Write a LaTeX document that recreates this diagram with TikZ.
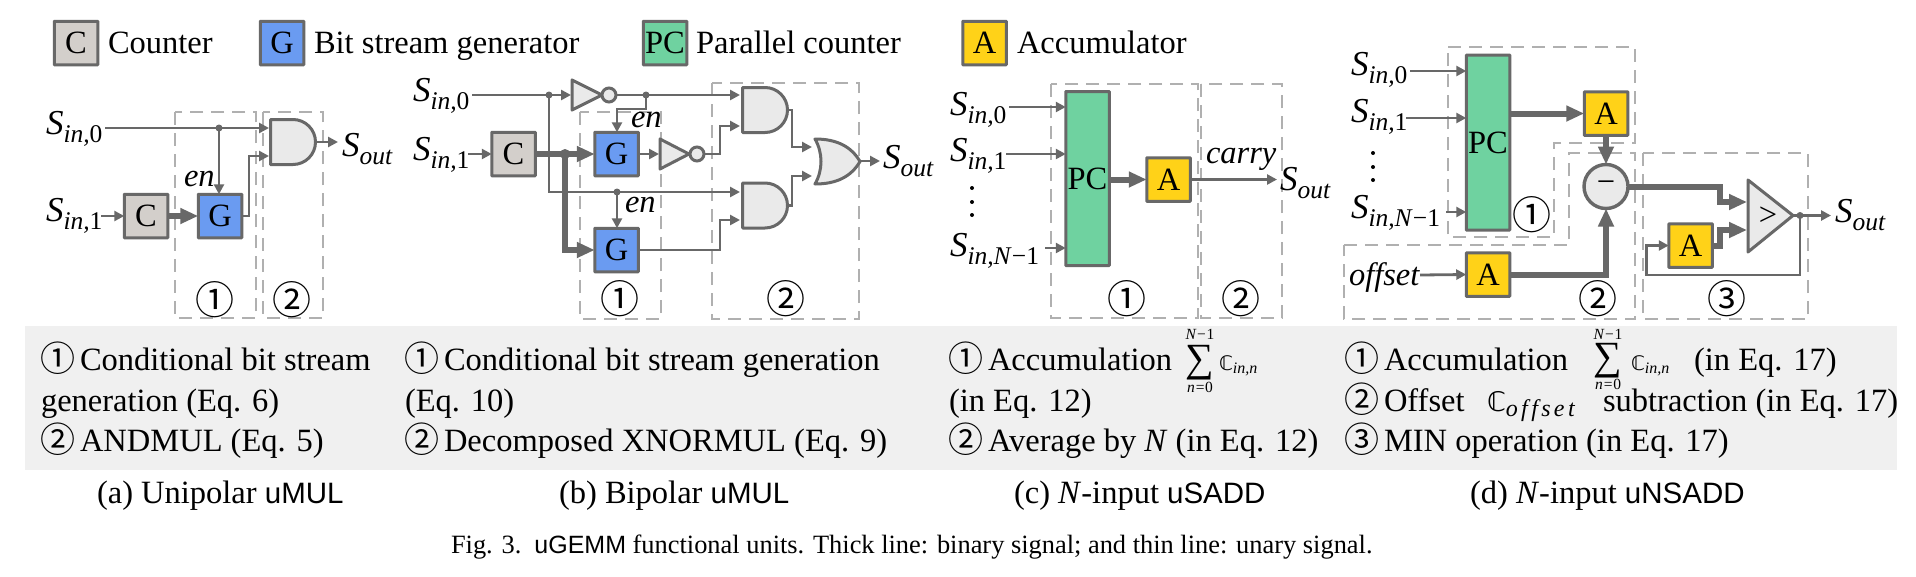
\documentclass[tikz,border=0pt]{standalone}
\usepackage{fontspec}
\setmainfont{Liberation Serif}
\setsansfont{Liberation Sans}
\newfontfamily\cjkn{Noto Sans CJK JP}
\newfontfamily\djv{DejaVu Sans}
\usetikzlibrary{arrows.meta,calc}
\definecolor{ln}{HTML}{686868}
\definecolor{dsh}{HTML}{B0B0B0}
\definecolor{cfill}{HTML}{D3CFCB}
\definecolor{gfill}{HTML}{6A9BF1}
\definecolor{pfill}{HTML}{6FD2A0}
\definecolor{afill}{HTML}{FFD218}
\definecolor{gatefill}{HTML}{EAEAEA}
\definecolor{band}{HTML}{F0F0F0}
\newcommand{\bigf}{\fontsize{32.5}{36}\selectfont}
\newcommand{\capf}{\fontsize{26.4}{30}\selectfont}
\newcommand{\Sg}[1]{{\fontsize{35}{36}\selectfont\textit{S}}\raisebox{-8pt}{\fontsize{25.5}{28}\selectfont #1}}
\newcommand{\cn}[1]{{\cjkn\fontsize{39}{39}\selectfont #1}}
\newcommand{\cnt}[1]{{\cjkn\fontsize{35}{36}\selectfont\raisebox{-1.5pt}{#1}}}
\newcommand{\usf}[1]{{\sffamily\fontsize{29.5}{30}\selectfont #1}}
\tikzset{
  x=1pt,y=-1pt,
  every node/.style={inner sep=0pt,outer sep=0pt,text=black},
  blk/.style={draw=ln,line width=3pt,rounded corners=0.6pt,minimum width=43.5pt,minimum height=43.5pt,font=\bigf},
  cbox/.style={blk,fill=cfill},
  gbox/.style={blk,fill=gfill},
  abox/.style={blk,fill=afill},
  pbox/.style={blk,fill=pfill},
  lbl/.style={anchor=base west,font=\bigf},
  dbox/.style={draw=dsh,line width=1.6pt,dash pattern=on 13pt off 8pt},
  gate/.style={draw=ln,line width=3pt,fill=gatefill,line join=round},
  ghost/.style={minimum width=45pt,minimum height=45pt},
  bubble/.style={circle,draw=ln,line width=3pt,fill=gatefill,minimum size=14pt},
  wire/.style={draw=ln,line width=2.8pt},
  thin arr/.style={wire,-{Triangle[length=10pt,width=10pt]}},
  thick arr/.style={draw=ln,line width=6pt,-{Triangle[length=18pt,width=15pt]}},
  jn/.style={circle,fill=ln,minimum size=7pt},
  jnb/.style={circle,fill=ln,minimum size=10pt},
  dotn/.style={circle,fill=black,minimum size=4pt},
  smallm/.style={font=\fontsize{15.5}{16}\selectfont\itshape},
}
\newcommand{\andgate}[1]{\draw[gate] (#1.north west) -- ++(22.5,0) arc[start angle=90,end angle=-90,radius=22.5pt] -- (#1.south west) -- cycle;}
\begin{document}
\begin{tikzpicture}
\useasboundingbox (0,0) rectangle (1916,576);
\fill[white] (0,0) rectangle (1916,576);
% grey band
\fill[band] (25,326) rectangle (1897,470);
% legend
\node[cbox] (lc) at (76,43) {C};
\node[lbl] (lct) at (108,53) {Counter};
\node[gbox] (lg) at (282,43) {G};
\node[lbl] (lgt) at (314,53) {Bit stream generator};
\node[pbox] (lp) at (665,43) {PC};
\node[lbl] (lpt) at (696,53) {Parallel counter};
\node[abox] (la) at (984.5,43) {A};
\node[lbl] (lat) at (1017,53) {Accumulator};
% ---------- dashed boxes
\draw[dbox] (175,112) rectangle (256,318);
\draw[dbox] (263,112) rectangle (323,318);
\draw[dbox] (580,112) rectangle (661,319);
\draw[dbox] (712,83) rectangle (859,319);
\draw[dbox] (1051,84) rectangle (1198,318);
\draw[dbox] (1201,84) rectangle (1282,318);
\draw[dbox] (1448,47) -- (1635,47) -- (1635,143) -- (1554,143) -- (1554,237) -- (1448,237) -- cycle;
\draw[dbox] (1344,245) -- (1569,245) -- (1569,153) -- (1635,153) -- (1635,319) -- (1344,319) -- cycle;
\draw[dbox] (1643,153) rectangle (1808,319);
% ---------- (a)
\node[lbl] (a0) at (46,134) {\Sg{\textit{in,}0}};
\node[lbl] (a1) at (46,221) {\Sg{\textit{in,}1}};
\node[lbl] (aout) at (342,156) {\Sg{\textit{out}}};
\node[lbl] (aen) at (184,186) {\textit{en}};
\node[cbox] (aC) at (146,216) {C};
\node[gbox] (aG) at (220,216) {G};
\node[ghost] (aand) at (293,142) {};
\andgate{aand}
\coordinate (aj) at (219,128);
\coordinate (aa) at (269,128);
\coordinate (ab) at (269,156);
\coordinate (as0) at (105,128);
\coordinate (as1) at (101,216);
\coordinate (ao) at (338,142);
\draw[thin arr] (as0) -- (aa);
\node[jn] (ajd) at (aj) {};
\draw[thin arr] (aj) -- (aj |- aG.north);
\draw[thin arr] (as1) -- (aC.west);
\draw[thick arr] (aC.east) -- (aG.west);
\draw[thin arr] (aG.east) -- (249,216) -- (249,156) -- (ab);
\draw[thin arr] (aand.east) -- (ao);
\node (an1) at (215,300) {\cn{①}};
\node (an2) at (292,300) {\cn{②}};
% ---------- (b)
\node[lbl] (b0) at (413,101) {\Sg{\textit{in,}0}};
\node[lbl] (b1) at (413,160) {\Sg{\textit{in,}1}};
\node[lbl] (bout) at (883,168) {\Sg{\textit{out}}};
\node[lbl] (ben1) at (631,127) {\textit{en}};
\node[lbl] (ben2) at (625,212) {\textit{en}};
\node[cbox] (bC) at (513.5,154) {C};
\node[gbox] (bG1) at (616.5,154) {G};
\node[gbox] (bG2) at (616.5,250) {G};
\node[ghost] (band1) at (765,110) {};
\node[ghost] (band2) at (765,205.5) {};
\andgate{band1}
\andgate{band2}
\draw[gate] (815,139) .. controls (836,139) and (851,146) .. (860,161.5) .. controls (851,177) and (836,184) .. (815,184) .. controls (823,170) and (823,153) .. cycle;
\draw[gate] (572,80) -- (602,95) -- (572,110) -- cycle;
\node[bubble] (bb1) at (609,95) {};
\draw[gate] (660,139) -- (689,154) -- (660,169) -- cycle;
\node[bubble] (bb2) at (697,154) {};
\coordinate (bs0) at (472,95);
\coordinate (bs1) at (468,154);
\coordinate (bj1) at (549,95);
\coordinate (bj2) at (646,95);
\coordinate (bj3) at (617,192);
\coordinate (bj4) at (565,154);
\coordinate (bt) at (617,109);
\coordinate (binv1) at (571,95);
\coordinate (binv2) at (659,154);
\coordinate (b1a) at (740,95);
\coordinate (b1b) at (740,126);
\coordinate (b2a) at (740,192);
\coordinate (b2b) at (740,220);
\coordinate (bora) at (812,147);
\coordinate (borb) at (812,176);
\coordinate (bo) at (880,161);
\draw[thin arr] (bs0) -- (binv1);
\draw[thin arr] (bb1.east) -- (b1a);
\draw[thin arr] (bj1) -- (bj1 |- b2a) -- (b2a);
\draw[thin arr] (bj2) -- (bj2 |- bt) -- (bt) -- (bt |- bG1.north);
\draw[thin arr] (bj3) -- (bj3 |- bG2.north);
\draw[thin arr] (bs1) -- (bC.west);
\draw[thick arr] (bC.east) -- (bG1.west);
\draw[thick arr] (bj4) -- (bj4 |- bG2.west) -- (bG2.west);
\draw[thin arr] (bG1.east) -- (binv2);
\draw[thin arr] (bb2.east) -- (720,154) -- (720,126) -- (b1b);
\draw[thin arr] (bG2.east) -- (720,250) -- (720,220) -- (b2b);
\draw[thin arr] (band1.east) -- (792,110) -- (792,147) -- (bora);
\draw[thin arr] (band2.east) -- (792,205.5) -- (792,176) -- (borb);
\draw[thin arr] (860,161) -- (bo);
\node[jn] (bd1) at (bj1) {};
\node[jn] (bd2) at (bj2) {};
\node[jn] (bd3) at (bj3) {};
\node[jnb] (bd4) at (bj4) {};
\node (bn1) at (620,299) {\cn{①}};
\node (bn2) at (786,299) {\cn{②}};
% ---------- (c)
\node[lbl] (c0) at (950,115) {\Sg{\textit{in,}0}};
\node[lbl] (c1) at (950,161) {\Sg{\textit{in,}1}};
\node[lbl] (c2) at (950,256) {\Sg{\textit{in,N}−1}};
\node[lbl] (cout) at (1280,190) {\Sg{\textit{out}}};
\node[lbl] (ccar) at (1206,163) {\textit{carry}};
\node[pbox,minimum height=174pt] (cP) at (1087.5,178.5) {PC};
\node[abox] (cA) at (1168.5,179.5) {A};
\node[dotn] (cd1) at (972,188) {};
\node[dotn] (cd2) at (972,202) {};
\node[dotn] (cd3) at (972,215) {};
\coordinate (cs0) at (1009,107);
\coordinate (cs1) at (1006,154);
\coordinate (cs2) at (1045,248);
\coordinate (co) at (1277,179.5);
\draw[thin arr] (cs0) -- (cs0 -| cP.west);
\draw[thin arr] (cs1) -- (cs1 -| cP.west);
\draw[thin arr] (cs2) -- (cs2 -| cP.west);
\draw[thick arr] (cP.east |- cA.west) -- (cA.west);
\draw[thin arr] (cA.east) -- (co);
\node (cn1) at (1127,299) {\cn{①}};
\node (cn2) at (1241,299) {\cn{②}};
% ---------- (d)
\node[lbl] (d0) at (1351,75) {\Sg{\textit{in,}0}};
\node[lbl] (d1) at (1351,122) {\Sg{\textit{in,}1}};
\node[lbl] (d2) at (1351,218) {\Sg{\textit{in,N}−1}};
\node[lbl] (dout) at (1835,222) {\Sg{\textit{out}}};
\node[lbl] (doff) at (1349,285) {\textit{offset}};
\node[pbox,minimum height=175pt] (dP) at (1488,142.5) {PC};
\node[abox] (dA1) at (1606,113.5) {A};
\node[abox] (dA2) at (1488,274.5) {A};
\node[abox] (dA3) at (1690.5,245.5) {A};
\node[circle,draw=ln,line width=3.4pt,fill=gatefill,minimum size=44pt,font=\bigf] (dM) at (1606,186.5) {−};
\draw[gate] (1748,180) -- (1793,215.5) -- (1748,252) -- cycle;
\node[font=\bigf] (dgt) at (1768,216) {>};
\node[dotn] (dd1) at (1373,153) {};
\node[dotn] (dd2) at (1373,167) {};
\node[dotn] (dd3) at (1373,180) {};
\coordinate (ds0) at (1410,71);
\coordinate (ds1) at (1406,118);
\coordinate (ds2) at (1446,212);
\coordinate (dso) at (1420,275);
\coordinate (dj) at (1800,215.5);
\coordinate (do) at (1831,215.5);
\coordinate (dca) at (1747,202);
\coordinate (dcb) at (1747,230);
\draw[thin arr] (ds0) -- (ds0 -| dP.west);
\draw[thin arr] (ds1) -- (ds1 -| dP.west);
\draw[thin arr] (ds2) -- (ds2 -| dP.west);
\draw[thin arr] (dso) -- (dA2.west);
\draw[thick arr] (dP.east |- dA1.west) -- (dA1.west);
\draw[thick arr] (dA1.south) -- (dM.north);
\draw[thick arr] (dA2.east) -- (1606,274.5) -- (dM.south);
\draw[thick arr] (dM.east) -- (1720,186.5) -- (1720,202) -- (dca);
\draw[thick arr] (dA3.east) -- (1720,245.5) -- (1720,230) -- (dcb);
\draw[thin arr] (1793,215.5) -- (do);
\draw[thin arr] (dj) -- (1800,275) -- (1646.5,275) -- (1646.5,245.5) -- (dA3.west);
\node[jn] (dd) at (dj) {};
\node (dn1) at (1532,215) {\cn{①}};
\node (dn2) at (1598,299) {\cn{②}};
\node (dn3) at (1727,299) {\cn{③}};
% ---------- band text
\node[lbl] (ta1) at (40,370) {\cnt{①}\hspace{5pt}Conditional bit stream};
\node[lbl] (ta2) at (41,411) {generation (Eq. 6)};
\node[lbl] (ta3) at (40,451) {\cnt{②}\hspace{5pt}ANDMUL (Eq. 5)};
\node[lbl] (tb1) at (404,370) {\cnt{①}\hspace{5pt}Conditional bit stream generation};
\node[lbl] (tb2) at (405,411) {(Eq. 10)};
\node[lbl] (tb3) at (404,451) {\cnt{②}\hspace{5pt}Decomposed XNORMUL (Eq. 9)};
\node[lbl] (tc1) at (948,370) {\cnt{①}\hspace{5pt}Accumulation};
\node (tcs) at (1200,363) {\fontsize{40}{40}\selectfont ∑};
\node[smallm] (tcu) at (1200,334) {N−\textup{1}};
\node[smallm] (tcl) at (1200,387) {n=\textup{0}};
\node[anchor=base west] (tcc) at (1219,370) {{\djv\fontsize{20}{22}\selectfont ℂ}\raisebox{-3pt}{\fontsize{16}{16}\selectfont\itshape in,n}};
\node[lbl] (tc2) at (949,411) {(in Eq. 12)};
\node[lbl] (tc3) at (948,451) {\cnt{②}\hspace{5pt}Average by \textit{N} (in Eq. 12)};
\node[lbl] (td1) at (1344,370) {\cnt{①}\hspace{5pt}Accumulation};
\node (tds) at (1608,361) {\fontsize{40}{40}\selectfont ∑};
\node[smallm] (tdu) at (1608,334) {N−\textup{1}};
\node[smallm] (tdl) at (1608,384) {n=\textup{0}};
\node[anchor=base west] (tdc) at (1631,370) {{\djv\fontsize{20}{22}\selectfont ℂ}\raisebox{-3pt}{\fontsize{16}{16}\selectfont\itshape in,n}};
\node[lbl] (tde) at (1694,370) {(in Eq. 17)};
\node[lbl] (td2) at (1344,411) {\cnt{②}\hspace{5pt}Offset};
\node[anchor=base west] (tdo) at (1487,411) {{\djv\fontsize{27}{28}\selectfont ℂ}\raisebox{-5pt}{\fontsize{24}{26}\selectfont\itshape\addfontfeature{LetterSpace=14}offset}};
\node[lbl] (tdf) at (1603,411) {subtraction (in Eq. 17)};
\node[lbl] (td3) at (1344,451) {\cnt{③}\hspace{5pt}MIN operation (in Eq. 17)};
% ---------- captions
\node[lbl] (capa) at (97,503) {(a) Unipolar \usf{uMUL}};
\node[lbl] (capb) at (559,503) {(b) Bipolar \usf{uMUL}};
\node[lbl] (capc) at (1014,503) {(c) \textit{N}-input \usf{uSADD}};
\node[lbl] (capd) at (1470,503) {(d) \textit{N}-input \usf{uNSADD}};
\node[anchor=base west,font=\capf] (fig) at (451,553) {Fig. 3.\hspace{13pt}{\sffamily\fontsize{25}{26}\selectfont uGEMM} functional units. Thick line: binary signal; and thin line: unary signal.};
\end{tikzpicture}
\end{document}
